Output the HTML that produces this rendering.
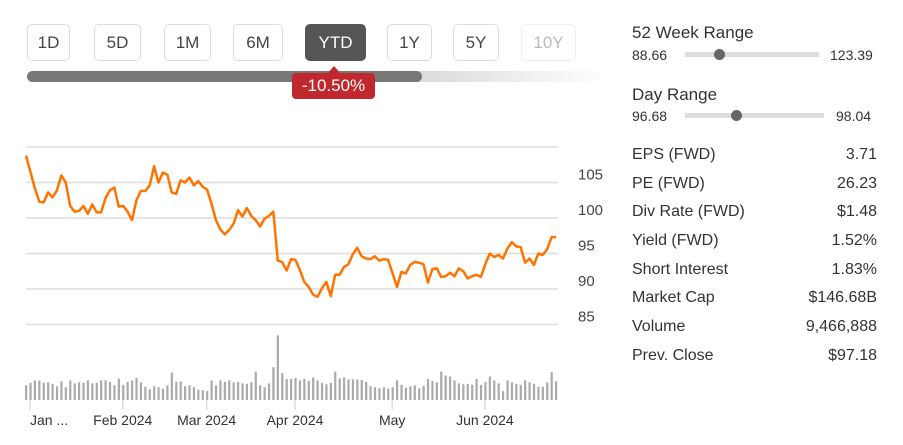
<!DOCTYPE html>
<html><head><meta charset="utf-8"><style>
body{margin:0;width:903px;height:445px;background:#fff;font-family:"Liberation Sans",sans-serif;color:#333;position:relative;overflow:hidden}
.btn{position:absolute;top:24px;height:37px;border:1px solid #ddd;border-radius:5px;box-sizing:border-box;font-size:17px;line-height:35px;text-align:center;color:#444;background:#fff}
.abs{position:absolute}
.row{position:absolute;left:632px;width:245px;font-size:16px;color:#333}
.row span:last-child{float:right}
</style></head><body>
<div class="btn" style="left:27px;width:43px">1D</div>
<div class="btn" style="left:94px;width:47px">5D</div>
<div class="btn" style="left:164px;width:47px">1M</div>
<div class="btn" style="left:233px;width:50px">6M</div>
<div class="btn" style="left:305px;width:61px;background:#555;border-color:#555;color:#fff">YTD</div>
<div class="btn" style="left:387px;width:45px">1Y</div>
<div class="btn" style="left:453px;width:46px">5Y</div>
<div class="btn" style="left:521px;width:55px;color:#bbb;border-color:#eee">10Y</div>
<div class="abs" style="left:27px;top:71px;width:580px;height:11px;border-radius:6px;background:linear-gradient(90deg,#ddd 70%,#fff)"></div>
<div class="abs" style="left:27px;top:71px;width:395px;height:11px;border-radius:6px;background:#777"></div>
<div class="abs" style="left:292px;top:73px;width:83px;height:26px;border-radius:4px;background:#c0282d;color:#fff;font-size:17px;line-height:26px;text-align:center">-10.50%</div>
<div class="abs" style="left:327px;top:66px;width:0;height:0;border-left:7px solid transparent;border-right:7px solid transparent;border-bottom:8px solid #c0282d"></div>

<svg class="abs" style="left:0;top:0" width="610" height="445" id="chart"></svg>

<div class="abs" style="left:632px;top:23px;font-size:17px">52 Week Range</div>
<div class="abs" style="left:632px;top:47px;font-size:14px">88.66</div>
<div class="abs" style="left:685px;top:52px;width:134px;height:5px;background:#ddd"></div>
<div class="abs" style="left:714px;top:49px;width:11px;height:11px;border-radius:50%;background:#666"></div>
<div class="abs" style="left:830px;top:47px;font-size:14px">123.39</div>
<div class="abs" style="left:632px;top:85px;font-size:17px">Day Range</div>
<div class="abs" style="left:632px;top:108px;font-size:14px">96.68</div>
<div class="abs" style="left:685px;top:113px;width:139px;height:5px;background:#ddd"></div>
<div class="abs" style="left:731px;top:110px;width:11px;height:11px;border-radius:50%;background:#666"></div>
<div class="abs" style="left:836px;top:108px;font-size:14px">98.04</div>

<div class="row" style="top:146px"><span>EPS (FWD)</span><span>3.71</span></div>
<div class="row" style="top:175px"><span>PE (FWD)</span><span>26.23</span></div>
<div class="row" style="top:203px"><span>Div Rate (FWD)</span><span>$1.48</span></div>
<div class="row" style="top:232px"><span>Yield (FWD)</span><span>1.52%</span></div>
<div class="row" style="top:261px"><span>Short Interest</span><span>1.83%</span></div>
<div class="row" style="top:289px"><span>Market Cap</span><span>$146.68B</span></div>
<div class="row" style="top:318px"><span>Volume</span><span>9,466,888</span></div>
<div class="row" style="top:347px"><span>Prev. Close</span><span>$97.18</span></div>

<script>
const prices=[108.8,106.5,104.2,102.3,102.2,103.6,102.9,103.9,106,105,101.7,100.9,101,101.7,100.6,101.9,100.8,100.8,102.8,103.9,104.3,101.6,101.7,100.9,99.7,102.5,103.8,103.8,104.6,107.3,105,106.4,106.1,103.6,103.4,105.3,105,105.7,104.6,105.2,104.4,104,102,99.7,98.4,97.7,98.3,99.2,101.1,100.2,101.4,100.3,99.7,98.8,99.9,100.3,100.9,94,93.8,92.6,94.2,94.1,92.7,91,90.3,89.2,88.9,90.1,91,89,92,92,93.1,93.5,94.9,95.8,94.6,94.3,94.2,94.6,94,94.2,94.1,92.2,90.3,92.4,92.2,93.4,93.8,93.7,93.5,90.9,92.8,92.9,91.7,91.8,92.3,91.8,92.9,92.5,91.5,91.8,92,91.7,93.5,95,94.5,94.8,94.3,95.7,96.6,96,95.9,93.7,94.3,93.4,95,94.8,95.6,97.3,97.3];
const volumes=[3,3.5,4,4,3.5,3.6,3.3,2.8,3.8,2.6,4,3.4,3.6,3.5,4,3.4,3.5,4,4,3.7,3,4.4,3.1,3.7,4,4.5,3.6,2.7,2.2,2.8,2.6,2.3,3,5.6,3.7,3.8,2.8,3,2.6,2.1,2,1.8,4,3,4,3.7,4,3.6,3.7,3.4,3.3,3.6,5.8,3,2.6,3.4,6.7,13.2,5.5,4.3,4.3,4.5,4,4.3,3.9,4.6,4,3.5,3.2,3.5,5.8,4.4,4.6,4.2,4.2,4.2,4.1,3.7,2.8,2.6,2.4,2.6,2.3,2.6,4,3.1,2.5,2.8,3,2.4,2.9,4.3,3.9,3.6,5.8,5,4.8,4,3.4,3.2,3.3,3.1,4.3,3.1,3.7,4.8,4,3.4,1.8,4,3.6,3.3,3.1,4,3.6,3.3,2.7,2.7,3.6,5.7,3.8];
const priceTicks=[105,100,95,90,85];
const monthLabels=["Jan ...","Feb 2024","Mar 2024","Apr 2024","May","Jun 2024"];
const monthIndex=[0,21,40,60,82,103];
const gridValues=[110,105,100,95,90,85];
const NS="http://www.w3.org/2000/svg",svg=document.getElementById('chart');
const x0=26,x1=556,n=prices.length;
const xS=i=>x0+(x1-x0)*i/(n-1);
const yS=v=>218-(v-100)*7.1;
const vBase=400,vS=v=>v*4.9;
function mk(t,a){const e=document.createElementNS(NS,t);for(const k in a)e.setAttribute(k,a[k]);svg.appendChild(e);return e;}
gridValues.forEach(v=>{const l=mk('line',{x1:26,x2:558,y1:yS(v),y2:yS(v),stroke:'#ddd','stroke-width':1.5});

});
priceTicks.forEach(v=>{const t=mk('text',{x:578,y:yS(v)-3,'font-size':15,fill:'#444','font-family':'Liberation Sans'});t.textContent=v;

});
volumes.forEach((v,i)=>{const r=mk('rect',{x:xS(i)-1,y:vBase-vS(v),width:2.2,height:vS(v),fill:'#aaa'});

});
monthIndex.forEach((mi,k)=>{const x=xS(mi)+4;const l=mk('line',{x1:x,x2:x,y1:400,y2:410,stroke:'#ddd','stroke-width':1.5});


const t=mk('text',{x:k==0?x:x,y:425,'font-size':14,fill:'#333','font-family':'Liberation Sans','text-anchor':k==0?'start':'middle'});t.textContent=monthLabels[k];

});
const p=mk('polyline',{points:prices.map((v,i)=>xS(i)+','+yS(v)).join(' '),fill:'none',stroke:'#ff7300','stroke-width':2.5,'stroke-linejoin':'round'});


</script>
</body></html>
